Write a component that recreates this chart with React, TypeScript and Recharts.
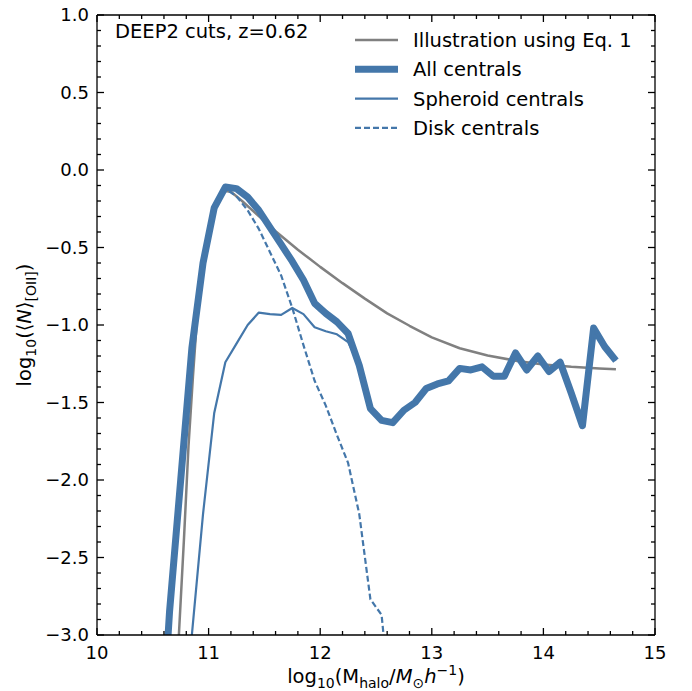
import React from 'react';
import { LineChart, Line, XAxis, YAxis } from 'recharts';

// ---------- data ----------
const eqX = [10.73, 10.78, 10.82, 10.86, 10.9, 10.95, 11.0, 11.05, 11.1, 11.15, 11.2, 11.3, 11.4, 11.5, 11.6, 11.7, 11.8, 11.9, 12.0, 12.2, 12.4, 12.6, 12.8, 13.0, 13.25, 13.5, 13.75, 14.0, 14.25, 14.5, 14.65];
const eqY = [-3.05, -2.37, -1.78, -1.33, -0.92, -0.63, -0.41, -0.27, -0.18, -0.135, -0.14, -0.2, -0.265, -0.33, -0.395, -0.455, -0.515, -0.57, -0.625, -0.73, -0.83, -0.925, -1.005, -1.08, -1.15, -1.197, -1.23, -1.255, -1.27, -1.28, -1.285];

const allX = [10.55, 10.65, 10.75, 10.85, 10.95, 11.05, 11.15, 11.25, 11.35, 11.45, 11.55, 11.65, 11.75, 11.85, 11.95, 12.05, 12.15, 12.25, 12.35, 12.45, 12.55, 12.65, 12.75, 12.85, 12.95, 13.05, 13.15, 13.25, 13.35, 13.45, 13.55, 13.65, 13.75, 13.85, 13.95, 14.05, 14.15, 14.25, 14.35, 14.45, 14.55, 14.65];
const allY = [-4.0, -2.85, -2.0, -1.15, -0.6, -0.245, -0.11, -0.12, -0.175, -0.26, -0.37, -0.48, -0.59, -0.71, -0.86, -0.925, -0.98, -1.055, -1.26, -1.54, -1.615, -1.63, -1.55, -1.5, -1.41, -1.38, -1.36, -1.28, -1.29, -1.27, -1.33, -1.33, -1.18, -1.29, -1.2, -1.3, -1.24, -1.44, -1.65, -1.02, -1.14, -1.23];

const sphX = [10.75, 10.85, 10.95, 11.05, 11.15, 11.25, 11.35, 11.45, 11.55, 11.65, 11.75, 11.85, 11.95, 12.05, 12.15, 12.25, 12.35, 12.45, 12.55, 12.65, 12.75, 12.85, 12.95, 13.05, 13.15, 13.25, 13.35, 13.45, 13.55, 13.65, 13.75, 13.85, 13.95, 14.05, 14.15, 14.25, 14.35, 14.45, 14.55, 14.65];
const sphY = [-4.5, -3.0, -2.22, -1.57, -1.24, -1.12, -1.0, -0.92, -0.93, -0.935, -0.89, -0.93, -1.015, -1.04, -1.06, -1.11, -1.26, -1.54, -1.615, -1.63, -1.55, -1.5, -1.41, -1.38, -1.36, -1.28, -1.29, -1.27, -1.33, -1.33, -1.18, -1.29, -1.2, -1.3, -1.24, -1.44, -1.65, -1.02, -1.14, -1.23];

const diskX = [10.55, 10.65, 10.75, 10.85, 10.95, 11.05, 11.15, 11.25, 11.35, 11.45, 11.55, 11.65, 11.75, 11.85, 11.95, 12.05, 12.15, 12.25, 12.35, 12.45, 12.55, 12.65];
const diskY = [-4.0, -2.87, -2.02, -1.17, -0.61, -0.25, -0.12, -0.17, -0.26, -0.38, -0.53, -0.68, -0.89, -1.13, -1.36, -1.52, -1.71, -1.89, -2.22, -2.77, -2.87, -3.6];

const X_DOMAIN: [number, number] = [10, 15];
const Y_DOMAIN: [number, number] = [-3, 1];
const xTicks = Array.from({ length: 26 }, (_, i) => +(10 + i * 0.2).toFixed(1));
const yTicks = Array.from({ length: 41 }, (_, i) => +(-3 + i * 0.1).toFixed(1));

const toPts = (xs: number[], ys: number[]) => xs.map((x, i) => ({ x, y: ys[i] }));
const eqData = toPts(eqX, eqY);
const allData = toPts(allX, allY);
const sphData = toPts(sphX, sphY);
const diskData = toPts(diskX, diskY);

const BLUE = '#4477aa';
const GRAY = '#808080';
const FONT = 'DejaVu Sans, sans-serif';

// chart geometry
const W = 692;
const H = 691;
const M = { top: 14, right: 36, bottom: 0, left: 0 };
const X_AXIS_H = 56;
const Y_AXIS_W = 97;
const TOP_AXIS_H = 1;
const RIGHT_AXIS_W = 1;
const PLOT_L = M.left + Y_AXIS_W;
const PLOT_T = M.top + TOP_AXIS_H;
const PLOT_W = W - M.left - M.right - Y_AXIS_W - RIGHT_AXIS_W;
const PLOT_H = H - M.top - M.bottom - X_AXIS_H - TOP_AXIS_H;
const PLOT_R = PLOT_L + PLOT_W;
const PLOT_B = PLOT_T + PLOT_H;
const sx = (v: number) => PLOT_L + ((v - X_DOMAIN[0]) / (X_DOMAIN[1] - X_DOMAIN[0])) * PLOT_W;
const sy = (v: number) => PLOT_T + ((Y_DOMAIN[1] - v) / (Y_DOMAIN[1] - Y_DOMAIN[0])) * PLOT_H;

const isMult = (v: number, step: number) => Math.abs(v / step - Math.round(v / step)) < 1e-6;
const fmtY = (v: number) => v.toFixed(1).replace('-', '\u2212');

const BottomLabel = (p: any) => {
  const v = Number(p.payload.value);
  if (!isMult(v, 1)) return <g />;
  return (
    <text x={Number(p.x)} y={Number(p.y) + 10} dy="0.75em" textAnchor="middle" fontSize={18} fontFamily={FONT} fill="#000">
      {`${Math.round(v)}`}
    </text>
  );
};
const LeftLabel = (p: any) => {
  const v = Number(p.payload.value);
  if (!isMult(v, 0.5)) return <g />;
  return (
    <text x={Number(p.x) - 8} y={Number(p.y)} dy="0.36em" textAnchor="end" fontSize={18} fontFamily={FONT} fill="#000">
      {fmtY(v)}
    </text>
  );
};

const legendItems = [
  { label: 'Illustration using Eq. 1', color: GRAY, width: 2.5, dash: undefined as string | undefined },
  { label: 'All centrals', color: BLUE, width: 7, dash: undefined },
  { label: 'Spheroid centrals', color: BLUE, width: 2.2, dash: undefined },
  { label: 'Disk centrals', color: BLUE, width: 2.2, dash: '6 3' },
];

// HTML-level overlay on top of the chart: inward ticks, legend, annotation, axis titles
const Overlay = () => (
  <svg width={W} height={H} style={{ position: 'absolute', left: 0, top: 0, zIndex: 10, pointerEvents: 'none', overflow: 'visible' }}>
    {xTicks.map((v) => {
      const x = sx(v);
      const len = isMult(v, 1) ? 7 : 4;
      return (
        <g key={`x${v}`}>
          <line x1={x} y1={PLOT_B} x2={x} y2={PLOT_B - len} stroke="#000" strokeWidth={1.3} />
          <line x1={x} y1={PLOT_T} x2={x} y2={PLOT_T + len} stroke="#000" strokeWidth={1.3} />
        </g>
      );
    })}
    {yTicks.map((v) => {
      const y = sy(v);
      const len = isMult(v, 0.5) ? 7 : 4;
      return (
        <g key={`y${v}`}>
          <line x1={PLOT_L} y1={y} x2={PLOT_L + len} y2={y} stroke="#000" strokeWidth={1.3} />
          <line x1={PLOT_R} y1={y} x2={PLOT_R - len} y2={y} stroke="#000" strokeWidth={1.3} />
        </g>
      );
    })}
    <text x={115} y={38} fontSize={19.5} fontFamily={FONT} fill="#000">DEEP2 cuts, z=0.62</text>
    {legendItems.map((it, i) => {
      const y = 40 + i * 29.3;
      return (
        <g key={it.label}>
          <line x1={355} x2={398} y1={y} y2={y} stroke={it.color} strokeWidth={it.width} strokeDasharray={it.dash} />
          <text x={413} y={y} dy="0.36em" fontSize={19.5} fontFamily={FONT} fill="#000">{it.label}</text>
        </g>
      );
    })}
    <text x={376} y={683} textAnchor="middle" fontSize={19.5} fontFamily={FONT} fill="#000">
      <tspan>log</tspan>
      <tspan dy={5} fontSize={14}>10</tspan>
      <tspan dy={-5}>(M</tspan>
      <tspan dy={5} fontSize={14}>halo</tspan>
      <tspan dy={-5}>/</tspan>
      <tspan fontStyle="italic">M</tspan>
      <tspan dy={5} fontSize={14}>⊙</tspan>
      <tspan dy={-5} fontStyle="italic">h</tspan>
      <tspan dy={-8} fontSize={14}>−1</tspan>
      <tspan dy={8}>)</tspan>
    </text>
    <text x={31} y={325} transform="rotate(-90, 31, 325)" textAnchor="middle" fontSize={19.5} fontFamily={FONT} fill="#000">
      <tspan>log</tspan>
      <tspan dy={5} fontSize={14}>10</tspan>
      <tspan dy={-5}>(⟨</tspan>
      <tspan fontStyle="italic">N</tspan>
      <tspan>⟩</tspan>
      <tspan dy={5} fontSize={14}>[OII]</tspan>
      <tspan dy={-5}>)</tspan>
    </text>
  </svg>
);

const axisLineStyle = { stroke: '#000', strokeWidth: 1.3 };

export default function App() {
  return (
    <div style={{ position: 'absolute', left: 0, top: 0, width: W, height: H, background: '#fff' }}>
      <LineChart width={W} height={H} margin={M}>
        <XAxis xAxisId="b" type="number" dataKey="x" domain={X_DOMAIN} allowDataOverflow ticks={xTicks} interval={0}
          tick={<BottomLabel />} tickLine={false} tickSize={0} tickMargin={0} height={X_AXIS_H} axisLine={axisLineStyle} />
        <XAxis xAxisId="t" orientation="top" type="number" dataKey="x" domain={X_DOMAIN} allowDataOverflow ticks={xTicks} interval={0}
          tick={false} tickLine={false} tickSize={0} tickMargin={0} height={TOP_AXIS_H} axisLine={axisLineStyle} />
        <YAxis yAxisId="l" type="number" domain={Y_DOMAIN} allowDataOverflow ticks={yTicks} interval={0}
          tick={<LeftLabel />} tickLine={false} tickSize={0} tickMargin={0} width={Y_AXIS_W} axisLine={axisLineStyle} />
        <YAxis yAxisId="r" orientation="right" type="number" domain={Y_DOMAIN} allowDataOverflow ticks={yTicks} interval={0}
          tick={false} tickLine={false} tickSize={0} tickMargin={0} width={RIGHT_AXIS_W} axisLine={axisLineStyle} />
        <Line xAxisId="b" yAxisId="l" data={eqData} dataKey="y" type="linear" stroke={GRAY} strokeWidth={2.5} dot={false} isAnimationActive={false} strokeLinejoin="round" />
        <Line xAxisId="b" yAxisId="l" data={allData} dataKey="y" type="linear" stroke={BLUE} strokeWidth={7} dot={false} isAnimationActive={false} strokeLinejoin="round" />
        <Line xAxisId="b" yAxisId="l" data={sphData} dataKey="y" type="linear" stroke={BLUE} strokeWidth={2.2} dot={false} isAnimationActive={false} strokeLinejoin="round" />
        <Line xAxisId="b" yAxisId="l" data={diskData} dataKey="y" type="linear" stroke={BLUE} strokeWidth={2.2} strokeDasharray="6 3" dot={false} isAnimationActive={false} strokeLinejoin="round" />
      </LineChart>
      <Overlay />
    </div>
  );
}
